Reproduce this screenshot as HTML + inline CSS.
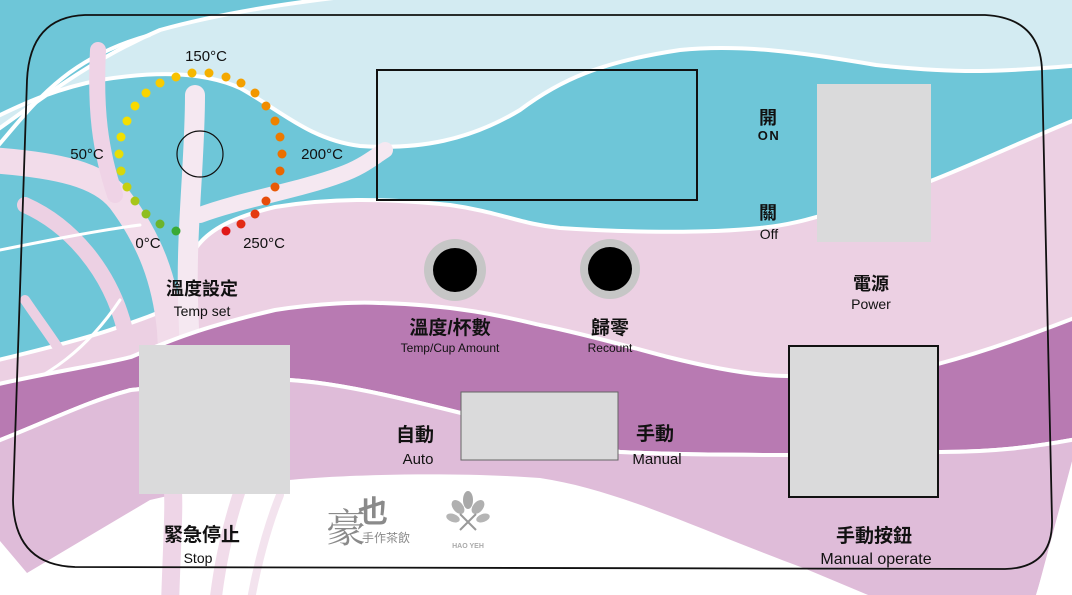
<!DOCTYPE html>
<html><head><meta charset="utf-8">
<style>
html,body{margin:0;padding:0;background:#fff;}
svg{display:block;}
.t{font-family:"Liberation Sans","Noto Sans CJK TC",sans-serif;fill:#111;text-anchor:middle;}
.b{font-weight:bold;}
</style></head><body>
<svg width="1072" height="595" viewBox="0 0 1072 595" xmlns="http://www.w3.org/2000/svg">
<rect width="1072" height="595" fill="#6ec6d8"/>
<!-- light blue top -->
<path d="M-10,135 C40,100 90,60 160,30 C250,5 380,-10 450,-10 L1082,-10 L1082,65 C1000,72 960,74 876,65 C800,52 740,44 680,50 C600,62 560,80 520,110 C470,140 420,150 360,146 C310,140 280,110 240,88 C200,70 150,72 100,80 C60,88 30,100 -10,120 Z" fill="#d3ebf2" stroke="#fff" stroke-width="4"/>
<path d="M-10,155 C30,110 60,60 150,35" fill="none" stroke="#fff" stroke-width="4"/>
<!-- pink middle -->
<path d="M180,300 C185,250 200,225 275,207 C330,198 380,198 450,205 C500,212 520,224 560,228 C620,232 700,234 760,228 C800,224 820,215 860,205 C930,186 1000,150 1082,117 L1082,605 L-10,605 L-10,362 C40,350 80,340 110,330 C140,320 170,310 180,300 Z" fill="#ecd0e3" stroke="#fff" stroke-width="4"/>
<!-- left pink strands / tree -->
<g fill="none" stroke-linecap="round">
<path d="M170,605 C172,500 175,420 170,330 C165,280 150,240 120,200 C100,175 60,165 -10,160" stroke="#f2dcea" stroke-width="26"/>
<path d="M115,195 C100,150 95,110 98,50" stroke="#efd3e6" stroke-width="16"/>
<path d="M190,605 C195,480 190,360 188,300 C186,230 195,160 195,95" stroke="#f5e8f1" stroke-width="20"/>
<path d="M200,215 C240,200 300,190 340,175 C360,168 370,160 385,150" stroke="#f5e8f1" stroke-width="16"/>
<path d="M25,205 C70,225 110,270 125,330" stroke="#ecd0e3" stroke-width="16"/>
<path d="M25,300 C45,330 70,360 80,390" stroke="#ecd0e3" stroke-width="10"/>
<path d="M-10,252 C50,240 100,230 140,225" stroke="#fff" stroke-width="3"/>
<path d="M-10,398 C50,380 90,345 120,300" stroke="#fff" stroke-width="3"/>
</g>
<!-- purple band -->
<path d="M-10,386 C50,372 100,365 131,357 C160,345 190,330 275,310 C320,303 360,302 379,303 C460,305 510,318 540,325 C590,335 640,350 668,357 C720,370 760,376 787,376 C840,374 900,370 938,364 C990,350 1030,335 1082,315 L1082,438 C1030,448 990,452 941,452 C880,453 830,456 789,455 C720,455 660,454 620,452 C560,440 510,425 461,413 C400,398 340,383 289,380 C230,380 180,385 131,390 C90,400 40,425 -10,444 Z" fill="#b87ab2" stroke="#fff" stroke-width="4"/>
<!-- lower pink -->
<path d="M-10,444 C40,425 90,400 131,390 C180,385 230,380 289,380 C340,383 400,398 461,413 C510,425 560,440 620,452 C660,454 720,455 789,455 C830,456 880,453 941,452 C990,452 1030,448 1082,438 L1082,450 L1035,605 L-10,605 Z" fill="#dfbcd9" stroke="#fff" stroke-width="4"/>
<!-- white region -->
<path d="M289,480 C350,474 460,472 540,478 C620,490 700,530 806,569 L880,600 L-5,600 L-5,535 L27,573 L150,500 C200,488 250,482 289,480 Z" fill="#fff"/>
<path d="M1075,450 L1035,600 L1075,600 Z" fill="#fff"/>
<g fill="none" stroke-linecap="round">
<path d="M170,605 C172,540 175,500 172,480" stroke="#eed5e7" stroke-width="18"/>
<path d="M215,605 C220,560 230,520 240,490" stroke="#f1dcea" stroke-width="12"/>
<path d="M250,605 C258,560 268,525 280,495" stroke="#f3e3ee" stroke-width="8"/>
</g>
<!-- panel outline -->
<path d="M85,15 L985,15 Q1040,18 1042,70 L1052,520 Q1053,568 1005,569 L75,567 Q14,565 13,500 L27,80 Q30,17 85,15 Z" fill="none" stroke="#111" stroke-width="1.8"/>
<!-- display -->
<rect x="377" y="70" width="320" height="130" fill="none" stroke="#111" stroke-width="2"/>
<!-- dial -->
<circle cx="200" cy="154" r="23" fill="none" stroke="#111" stroke-width="1.2"/>
<g>
<circle cx="176" cy="231" r="4.5" fill="#3aaa35"/>
<circle cx="160" cy="224" r="4.5" fill="#6cb42c"/>
<circle cx="146" cy="214" r="4.5" fill="#8fbe20"/>
<circle cx="135" cy="201" r="4.5" fill="#a8c61a"/>
<circle cx="127" cy="187" r="4.5" fill="#c4cf10"/>
<circle cx="121" cy="171" r="4.5" fill="#d7d70a"/>
<circle cx="119" cy="154" r="4.5" fill="#e8de05"/>
<circle cx="121" cy="137" r="4.5" fill="#f0e000"/>
<circle cx="127" cy="121" r="4.5" fill="#f5df00"/>
<circle cx="135" cy="106" r="4.5" fill="#f8da00"/>
<circle cx="146" cy="93" r="4.5" fill="#f9d400"/>
<circle cx="160" cy="83" r="4.5" fill="#f9cc00"/>
<circle cx="176" cy="77" r="4.5" fill="#f8c200"/>
<circle cx="192" cy="73" r="4.5" fill="#f6b800"/>
<circle cx="209" cy="73" r="4.5" fill="#f5b000"/>
<circle cx="226" cy="77" r="4.5" fill="#f4a800"/>
<circle cx="241" cy="83" r="4.5" fill="#f3a000"/>
<circle cx="255" cy="93" r="4.5" fill="#f29700"/>
<circle cx="266" cy="106" r="4.5" fill="#f08d00"/>
<circle cx="275" cy="121" r="4.5" fill="#ee8200"/>
<circle cx="280" cy="137" r="4.5" fill="#ed7a00"/>
<circle cx="282" cy="154" r="4.5" fill="#ec7000"/>
<circle cx="280" cy="171" r="4.5" fill="#ea6600"/>
<circle cx="275" cy="187" r="4.5" fill="#e85a06"/>
<circle cx="266" cy="201" r="4.5" fill="#e64c0a"/>
<circle cx="255" cy="214" r="4.5" fill="#e43a10"/>
<circle cx="241" cy="224" r="4.5" fill="#e22a14"/>
<circle cx="226" cy="231" r="4.5" fill="#e01818"/>
</g>
<g class="t" font-size="15">
<text x="206" y="61">150°C</text>
<text x="87" y="159">50°C</text>
<text x="322" y="159">200°C</text>
<text x="148" y="248">0°C</text>
<text x="264" y="248">250°C</text>
</g>
<!-- knobs -->
<circle cx="455" cy="270" r="31" fill="#c6c6c6"/>
<circle cx="455" cy="270" r="22" fill="#000"/>
<circle cx="610" cy="269" r="30" fill="#c6c6c6"/>
<circle cx="610" cy="269" r="22" fill="#000"/>
<!-- boxes -->
<rect x="817" y="84" width="114" height="158" fill="#dadadb"/>
<rect x="789" y="346" width="149" height="151" fill="#dadadb" stroke="#111" stroke-width="2"/>
<rect x="461" y="392" width="157" height="68" fill="#dadadb" stroke="#666" stroke-width="1"/>
<rect x="139" y="345" width="151" height="149" fill="#dadadb"/>
<!-- labels -->
<g class="t">
<text class="b" x="202" y="295" font-size="18">溫度設定</text>
<text x="202" y="316" font-size="14">Temp set</text>
<text class="b" x="450" y="334" font-size="19">溫度/杯數</text>
<text x="450" y="352" font-size="12">Temp/Cup Amount</text>
<text class="b" x="610" y="334" font-size="19">歸零</text>
<text x="610" y="352" font-size="12">Recount</text>
<text class="b" x="768" y="124" font-size="18">開</text>
<text class="b" x="769" y="140" font-size="13" letter-spacing="1.5">ON</text>
<text class="b" x="768" y="219" font-size="18">關</text>
<text x="769" y="239" font-size="14">Off</text>
<text class="b" x="871" y="290" font-size="18">電源</text>
<text x="871" y="309" font-size="14">Power</text>
<text class="b" x="415" y="441" font-size="19">自動</text>
<text x="418" y="464" font-size="15">Auto</text>
<text class="b" x="655" y="440" font-size="19">手動</text>
<text x="657" y="464" font-size="15">Manual</text>
<text class="b" x="202" y="541" font-size="19">緊急停止</text>
<text x="198" y="563" font-size="14">Stop</text>
<text class="b" x="874" y="542" font-size="19">手動按鈕</text>
<text x="876" y="564" font-size="16">Manual operate</text>
</g>
<!-- logo -->
<g fill="#8a8a8a">
<text x="326" y="542" font-family="'Noto Serif CJK SC','Liberation Serif',serif" font-size="40" fill="#8a8a8a">豪</text>
<text x="358" y="522" font-family="'Noto Sans CJK TC',sans-serif" font-size="30" font-weight="bold" fill="#8a8a8a">也</text>
<text x="362" y="542" font-family="'Noto Sans CJK TC',sans-serif" font-size="12" fill="#8a8a8a">手作茶飲</text>
<ellipse cx="468" cy="500" rx="5" ry="9" fill="#a8a8a8"/>
<ellipse cx="458" cy="507" rx="5" ry="8" transform="rotate(-40 458 507)" fill="#b0b0b0"/>
<ellipse cx="478" cy="507" rx="5" ry="8" transform="rotate(40 478 507)" fill="#b0b0b0"/>
<ellipse cx="453" cy="518" rx="4" ry="7" transform="rotate(-70 453 518)" fill="#b5b5b5"/>
<ellipse cx="483" cy="518" rx="4" ry="7" transform="rotate(70 483 518)" fill="#b5b5b5"/>
<path d="M460,530 L476,514 M460,514 L476,530" stroke="#999" stroke-width="2"/>
<text x="468" y="548" font-family="'Liberation Sans',sans-serif" font-size="7" font-weight="bold" text-anchor="middle" fill="#aaa">HAO YEH</text>
</g>
</svg>
</body></html>
